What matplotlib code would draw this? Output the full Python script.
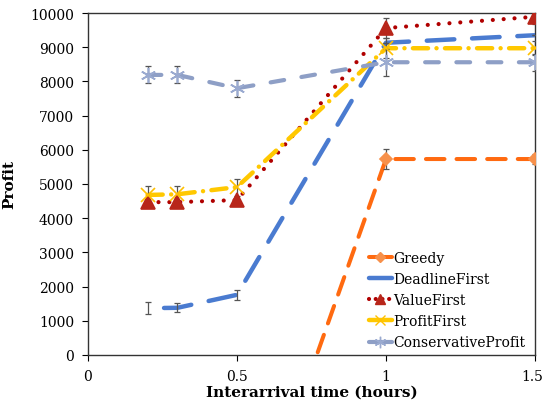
import numpy as np
import matplotlib
matplotlib.use("Agg")
import matplotlib.pyplot as plt
import matplotlib.transforms as mtrans
from matplotlib.lines import Line2D

plt.rcParams['font.family'] = ['DejaVu Serif']

x = [0.2, 0.3, 0.5, 1.0, 1.5]
greedy = [-6600, -6600, -6600, 5730, 5730]
deadline_first = [1370, 1380, 1760, 9130, 9350]
value_first = [4470, 4470, 4530, 9560, 9890]
profit_first = [4680, 4700, 4910, 8970, 8970]
conservative = [8190, 8190, 7800, 8560, 8560]

err_greedy = [0, 0, 0, 300, 150]
err_deadline = [180, 130, 150, 0, 0]
err_value = [0, 0, 0, 300, 200]
err_profit = [250, 250, 250, 300, 200]
err_conservative = [250, 250, 250, 400, 250]

labels = ["Greedy", "DeadlineFirst", "ValueFirst", "ProfitFirst", "ConservativeProfit"]

W, H = 544, 410
L, R, T, B = 88, 535, 14, 356

fig = plt.figure(figsize=(W / 100, H / 100), dpi=100)
ax = fig.add_axes([L / W, 1 - B / H, (R - L) / W, (B - T) / H])

series = [
    (greedy, err_greedy, '#FF6A10', (0, (4.6, 3.0)), 2.9, 'D', '#F7904A', '#F7904A', 6.5),
    (deadline_first, err_deadline, '#4A7BD0', (6.5, (6.2, 4.0)), 3.2, None, None, None, 0),
    (value_first, err_value, '#B00000', (0, (0.01, 2.6)), 3.0, '^', '#B8261A', '#B8261A', 9.5),
    (profit_first, err_profit, '#FFC800', (0, (3.4, 1.9, 0.01, 1.9)), 3.2, 'x', '#FFC000', '#FFC000', 10),
    (conservative, err_conservative, '#8E9FC6', (0, (3.3, 4.2)), 3.0, (6, 2, 0), '#9AAAD0', '#9AAAD0', 11),
]

handles = []
for (ys, es, col, ls, lw, mk, mfc, mec, ms), lab in zip(series, labels):
    ax.plot(x, ys, color=col, linestyle=ls, linewidth=lw, dash_capstyle='round',
            solid_capstyle='round', solid_joinstyle='round', dash_joinstyle='round', zorder=3)
    ax.errorbar(x, ys, yerr=es, fmt='none', ecolor='#555555', elinewidth=0.9,
                capsize=2.5, capthick=0.9, zorder=4)
    if mk is not None:
        ax.plot(x, ys, linestyle='none', marker=mk, markersize=ms, markerfacecolor=mfc,
                markeredgecolor=mec, markeredgewidth=1.2, zorder=5)
    hls = (0, (0.01, 1.6)) if lab == "ValueFirst" else '-'
    handles.append(Line2D([0], [0], color=col, linestyle=hls, linewidth=lw,
                          solid_capstyle='round', dash_capstyle='round',
                          marker=mk if mk else None,
                          markersize=ms * 0.75, markerfacecolor=mfc, markeredgecolor=mec))

ax.set_xlim(0, 1.5)
ax.set_ylim(0, 10000)
ax.set_xticks([0, 0.5, 1, 1.5])
ax.set_xticklabels(['0', '0.5', '1', '1.5'])
ax.set_yticks(range(0, 10001, 1000))
ax.tick_params(axis='both', direction='out', length=4, width=0.8, labelsize=10, pad=6)
for s in ax.spines.values():
    s.set_linewidth(1.0)
    s.set_color('#333333')

last = ax.get_xticklabels()[-1]
last.set_transform(last.get_transform() + mtrans.ScaledTranslation(-3 / 100, 0, fig.dpi_scale_trans))

ax.set_xlabel('Interarrival time (hours)', fontsize=11, fontweight='bold', labelpad=1)
ax.set_ylabel('Profit', fontsize=11, fontweight='bold', labelpad=10)

leg = ax.legend(handles, labels, loc='lower right', frameon=False, fontsize=10,
                handlelength=1.6, handletextpad=0.1, labelspacing=0.52,
                borderaxespad=0.0, bbox_to_anchor=(0.99, 0.0))

fig.savefig('out.png', dpi=100)
